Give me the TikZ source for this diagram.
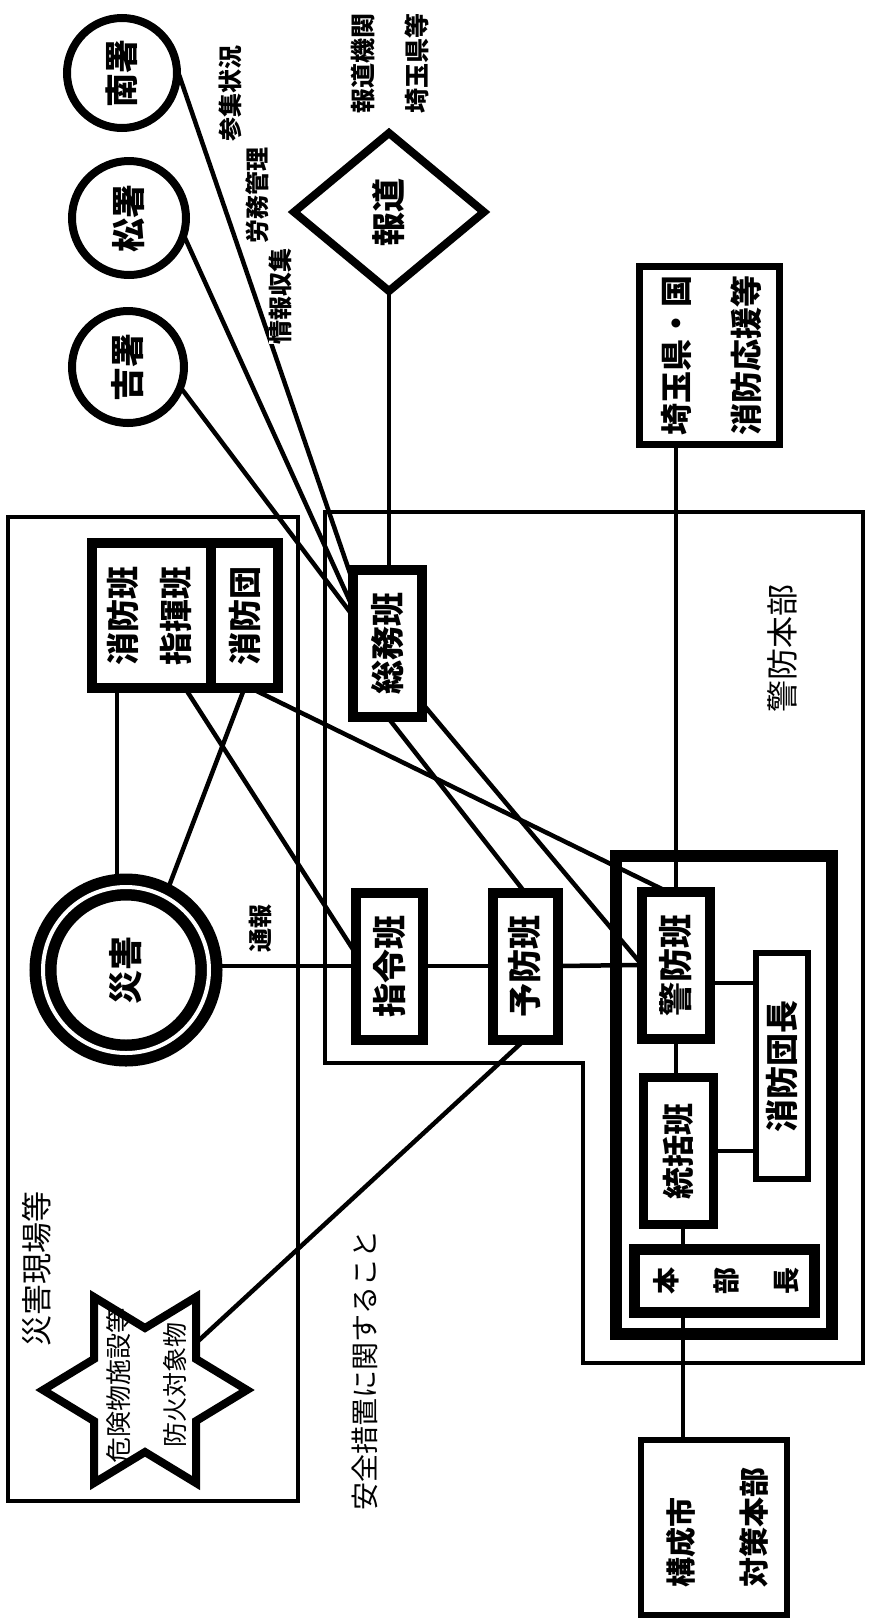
\documentclass[tikz,border=0pt]{standalone}
\usepackage{graphicx}
\usepackage{fontspec}
\newfontfamily\jp{Noto Sans CJK JP}
\usetikzlibrary{shapes.geometric,calc,backgrounds}
\newcommand{\fsz}[1]{\fontsize{#1}{#1}\selectfont}
\newcommand{\vtext}[2]{\rotatebox{90}{\fsz{#1}#2}}
\newcommand{\vtwo}[5]{\rotatebox{90}{\fontsize{#1}{#2}\selectfont\begin{tabular}{@{}#3@{}}#4\\#5\end{tabular}}}
\begin{document}
\begin{tikzpicture}[x=1pt,y=-1pt,
  every node/.style={inner sep=0pt, outer sep=0pt, font=\jp\bfseries},
  tbox/.style={draw, rectangle, fill=white, line width=10pt},
  ring/.style={draw, circle, fill=white, line width=8pt},
  conn/.style={line width=4.5pt},
  frame/.style={draw, line width=3.2pt},
  starshape/.style={draw, fill=white, line width=8pt, line join=miter},
  light/.style={font=\jp}]
\useasboundingbox (0,0) rectangle (870,1623);

% police stations
\node[ring, minimum size=110] (minami) at (122,73) {\vtext{34}{南署}};
\node[ring, minimum size=114] (matsu) at (129,218) {\vtext{34}{松署}};
\node[ring, minimum size=112] (yoshi) at (128,367) {\vtext{34}{吉署}};

% press
\node[draw, diamond, fill=white, line width=8pt, minimum width=190, minimum height=158] (hodo) at (389,212) {\vtext{34}{報道}};
\node (hodolbl) at (389,63) {\vtwo{25}{54}{l}{報道機関}{埼玉県等}};

\node[tbox, line width=7pt, minimum width=131, minimum height=178] (saitama) at (709,355.5) {\vtwo{32}{70}{c}{埼玉県・国}{消防応援等}};

\node[tbox, minimum width=69, minimum height=147] (somu) at (387.5,643.5) {\vtext{34}{総務班}};
\node[tbox, minimum width=119, minimum height=145] (shobohan) at (151.5,615.5) {\vtwo{33}{53}{c}{消防班}{指揮班}};
\node[tbox, minimum width=67, minimum height=145] (shobodan) at (244.5,615.5) {\vtext{33}{消防団}};

\node[draw, circle, fill=white, line width=11.5pt, double, double distance=4pt, minimum size=166] (saigai) at (126,970) {\vtext{34}{災害}};

\node[tbox, minimum width=67, minimum height=147] (shirei) at (389.5,966) {\vtext{34}{指令班}};
\node[tbox, minimum width=65, minimum height=147] (yobo) at (525,966) {\vtext{34}{予防班}};

\node[draw, line width=12pt, minimum width=216, minimum height=478] (group) at (724,1095) {};
\node[tbox, minimum width=68, minimum height=147] (keibo) at (676,965) {\vtext{34}{警防班}};
\node[tbox, line width=6pt, minimum width=52, minimum height=226] (danchou) at (782,1066) {\vtext{33}{消防団長}};
\node[tbox, line width=9pt, minimum width=70, minimum height=147] (tokatsu) at (678.5,1151) {\vtext{32}{統括班}};
\node[tbox, line width=11pt, minimum width=164, minimum height=63] (honbucho) at (724.5,1281) {\rotatebox{90}{\fontsize{27}{60}\selectfont\begin{tabular}{@{}c@{}}本\\部\\長\end{tabular}}};
\node[tbox, line width=6pt, minimum width=126, minimum height=175] (kosei) at (714,1527.5) {\vtwo{30}{73}{l}{構成市}{対策本部}};

% hazardous facilities star (drawn directly)
\draw[starshape] (247,1390) -- (196,1359) -- (196,1297) -- (145,1328) -- (94,1297) -- (94,1359)
  -- (43,1390) -- (94,1421) -- (94,1483) -- (145,1452) -- (196,1483) -- (196,1421) -- cycle;
\coordinate (starend) at (196,1343);
\node[light] (startext) at (145,1385) {\rotatebox{90}{\fontsize{26}{56}\selectfont\begin{tabular}{@{}c@{}}危険物施設等\\{\fsz{25}防火対象物}\end{tabular}}};

% labels
\node (lblsan) at (230,93) {\vtext{24}{参集状況}};
\node (lblrou) at (257,195) {\vtext{24}{労務管理}};
\node[fill=white] (lbljo) at (280,296) {\vtext{24}{情報収集}};
\node (lbltsu) at (260,928) {\vtext{24}{通報}};
\node[light] (lblkeibohonbu) at (782,648) {\vtext{32}{警防本部}};
\node[light] (lblgenba) at (37,1269) {\vtext{31}{災害現場等}};
\node[light] (lblanzen) at (365,1370) {\vtext{28}{安全措置に関すること}};

\begin{scope}[on background layer]
  \node[frame, minimum width=290, minimum height=984] (genba) at (153,1009) {};
  \draw[frame] (325,512) -- (863,512) -- (863,1363) -- (583,1363) -- (583,1063) -- (325,1063) -- cycle;

  \draw[conn] (minami.5) -- ($(somu.north west)+(0,12)$);
  \draw[conn] (matsu.-17) -- ($(somu.north west)+(0,38)$);
  \draw[conn] (yoshi.-21) -- ($(somu.north west)+(0,46)$);
  \draw[conn] (hodo.south) -- (hodo.south |- somu.north);
  \draw[conn] (keibo.north) -- (keibo.north |- saitama.south);

  \coordinate (a1) at ($(shobohan.south west)+(25,0)$);
  \draw[conn] (a1) -- (a1 |- saigai.north);
  \draw[conn] ($(shobohan.south west)+(93,0)$) -- ($(shirei.west)+(0,-12)$);
  \draw[conn] (shobodan.south) -- (saigai.62);
  \draw[conn] ($(shobodan.south)+(6,0)$) -- ($(keibo.north west)+(25,0)$);
  \draw[conn] (somu.south) -- (yobo.north);
  \draw[conn] ($(somu.south east)+(0,-14)$) -- (keibo.west);

  \draw[conn] (saigai.east |- shirei.west) -- (shirei.west);
  \draw[conn] (shirei.east) -- (yobo.west);
  \draw[conn] (yobo.east) -- (keibo.west);
  \coordinate (k1) at ($(keibo.east)+(0,18)$);
  \draw[conn] (k1) -- (k1 -| danchou.west);
  \draw[conn] (keibo.south) -- (keibo.south |- tokatsu.north);
  \draw[conn] (tokatsu.east) -- (tokatsu.east -| danchou.west);
  \coordinate (spine) at (683,1300);
  \draw[conn] (spine |- tokatsu.south) -- (spine |- honbucho.north);
  \draw[conn] (spine |- honbucho.south) -- (spine |- kosei.north);
  \draw[conn] (yobo.south) -- (starend);
\end{scope}
\end{tikzpicture}
\end{document}
